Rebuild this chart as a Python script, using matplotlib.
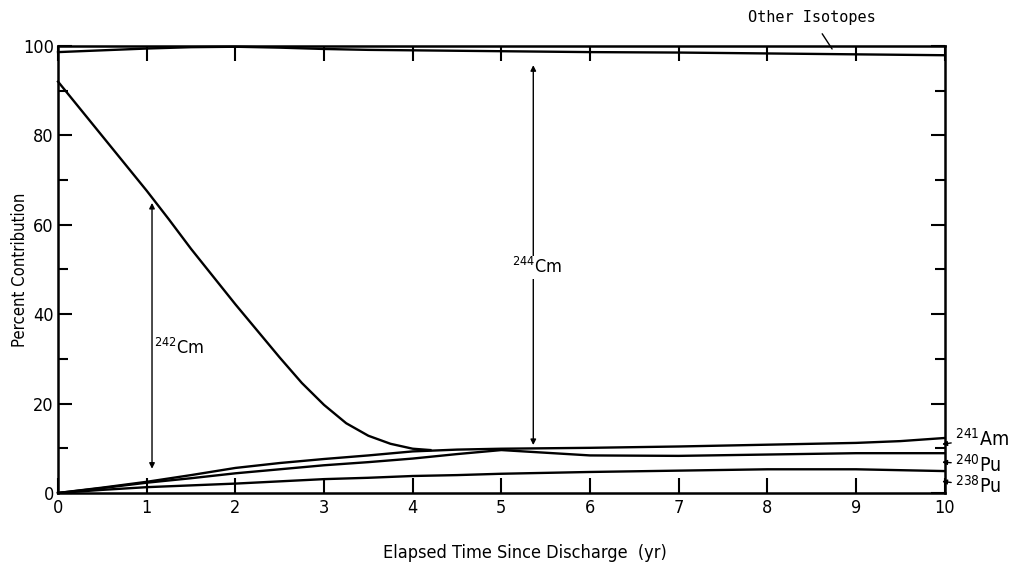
import matplotlib
matplotlib.use("Agg")
import matplotlib.pyplot as plt
from matplotlib.ticker import MultipleLocator

plt.rcParams['font.family'] = ['DejaVu Sans']
plt.rcParams['font.stretch'] = 'condensed'
plt.rcParams['mathtext.fontset'] = 'custom'
plt.rcParams['mathtext.rm'] = 'DejaVu Sans:stretch=condensed'

# elapsed time grid (yr) and cumulative curve heights (%)
years = [0, 0.5, 1, 1.5, 2, 2.5, 3, 3.5, 4, 4.5, 5, 5.5, 6, 7, 8, 9, 9.5, 10]
pu238_top = [0, 0.7, 1.3, 1.7, 2.1, 2.6, 3.1, 3.4, 3.8, 4.0, 4.3, 4.5, 4.7, 5.0, 5.3, 5.3, 5.1, 4.9]
pu240_top = [0, 1.1, 2.3, 3.3, 4.4, 5.3, 6.2, 6.9, 7.7, 8.7, 9.6, 9.0, 8.4, 8.3, 8.6, 8.9, 8.9, 8.9]
am241_top = [0, 1.2, 2.5, 4.0, 5.6, 6.7, 7.6, 8.4, 9.3, 9.7, 9.9, 10.0, 10.1, 10.4, 10.8, 11.2, 11.6, 12.3]
cm244_top = [98.6, 99.0, 99.4, 99.7, 99.8, 99.6, 99.3, 99.1, 99.0, 98.9, 98.8, 98.7, 98.6, 98.5, 98.3, 98.1, 98.0, 97.9]

# upper edge of the Cm-242 band until it joins the Am-241 curve
cm242_years = [0, 0.5, 1, 1.25, 1.5, 2, 2.5, 2.75, 3, 3.25, 3.5, 3.75, 4, 4.2]
cm242_top = [92, 79.8, 67.6, 61.2, 54.6, 42.2, 30.3, 24.6, 19.7, 15.6, 12.8, 11.0, 9.9, 9.6]

fig = plt.figure(figsize=(10.18, 5.66), dpi=100)
ax = fig.add_axes([0.057, 0.129, 0.871, 0.790])

lw = 1.7
for ys in (pu238_top, pu240_top, am241_top, cm244_top):
    ax.plot(years, ys, color='black', lw=lw, clip_on=False)
ax.plot(cm242_years, cm242_top, color='black', lw=lw, clip_on=False)

ax.set_xlim(0, 10)
ax.set_ylim(0, 100)
for s in ax.spines.values():
    s.set_linewidth(1.8)

ax.xaxis.set_major_locator(MultipleLocator(1))
ax.yaxis.set_major_locator(MultipleLocator(20))
ax.yaxis.set_minor_locator(MultipleLocator(10))
ax.tick_params(axis='x', which='major', direction='in', top=True, length=11,
               width=1.5, labelsize=13, pad=4)
ax.tick_params(axis='y', which='major', direction='in', right=True, length=10,
               width=1.5, labelsize=13, pad=3)
ax.tick_params(axis='y', which='minor', direction='in', right=True, length=7, width=1.5)

ax.set_xlabel('Elapsed Time Since Discharge  (yr)', fontsize=13)
ax.xaxis.set_label_coords(0.527, -0.115)
ax.set_ylabel('Percent Contribution', fontsize=12)
ax.yaxis.set_label_coords(-0.033, 0.5)

# band labels with double-headed arrows
arrow = dict(arrowstyle='<|-|>', color='black', lw=1.0, mutation_scale=8)
ax.annotate('', xy=(1.06, 4.8), xytext=(1.06, 65.5), arrowprops=arrow)
ax.text(1.37, 32.5, r'$^{242}$Cm', fontsize=13, ha='center', va='center',
        bbox=dict(facecolor='white', edgecolor='none', pad=1))
ax.annotate('', xy=(5.36, 10.1), xytext=(5.36, 96.3), arrowprops=arrow)
ax.text(5.4, 50.5, r'$^{244}$Cm', fontsize=13, ha='center', va='center',
        bbox=dict(facecolor='white', edgecolor='none', pad=1))

ax.annotate('Other Isotopes', xy=(8.73, 99.3), xytext=(8.5, 106.3),
            ha='center', va='center', fontsize=11, family='DejaVu Sans Mono',
            annotation_clip=False,
            arrowprops=dict(arrowstyle='-', color='black', lw=1.0, shrinkA=5, shrinkB=0))

# isotope tags at the right-hand edge
side_labels = [r'$^{241}$Am', r'$^{240}$Pu', r'$^{238}$Pu']
side_y = [12.2, 6.4, 1.6]
side_tip = [10.9, 6.9, 2.6]
for lab, yl, yt in zip(side_labels, side_y, side_tip):
    ax.annotate(lab, xy=(9.97, yt), xytext=(10.12, yl), ha='left', va='center',
                fontsize=14, annotation_clip=False,
                arrowprops=dict(arrowstyle='-|>', color='black', lw=1.0,
                                mutation_scale=7, shrinkA=1, shrinkB=0))

fig.savefig('out.png', dpi=100, facecolor='white')
